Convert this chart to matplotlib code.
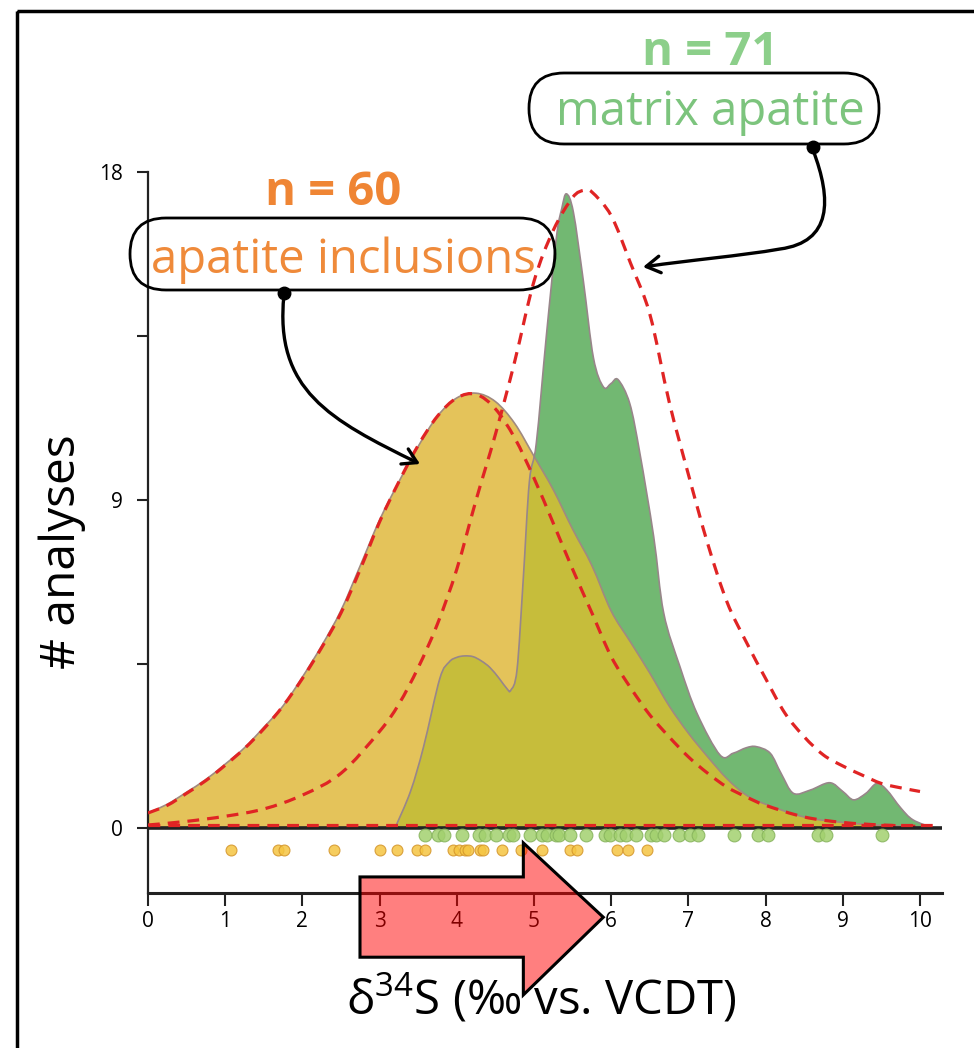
import matplotlib.pyplot as plt
import numpy as np
from matplotlib.patches import FancyBboxPatch, FancyArrowPatch, Polygon, Rectangle, PathPatch
from matplotlib.path import Path
from matplotlib.lines import Line2D
from matplotlib.transforms import Affine2D

plt.rcParams['font.family'] = ['Open Sans', 'DejaVu Sans']
plt.rcParams['mathtext.fontset'] = 'custom'
plt.rcParams['mathtext.rm'] = 'Open Sans'
plt.rcParams['mathtext.it'] = 'Open Sans'

# apatite inclusions: density curve
inc_x = [0, 0.25, 0.5, 0.75, 1.0, 1.25, 1.5, 1.75, 2.0, 2.25, 2.5, 2.75, 3.0, 3.25, 3.5, 3.75,
         4.0, 4.25, 4.5, 4.75, 5.0, 5.25, 5.5, 5.75, 6.0, 6.25, 6.5, 6.75, 7.0, 7.25, 7.5, 7.75,
         8.0, 8.5, 9.0, 9.5, 10.0]
inc_kde = [0.41, 0.65, 0.98, 1.33, 1.75, 2.2, 2.76, 3.35, 4.14, 5.0, 5.97, 7.2, 8.45, 9.5, 10.47, 11.3,
           11.8, 11.93, 11.7, 11.1, 10.2, 9.28, 8.2, 7.2, 5.95, 5.1, 4.25, 3.35, 2.6, 1.95, 1.35, 0.9,
           0.65, 0.3, 0.15, 0.07, 0.03]
inc_fit = [0.41, 0.62, 0.95, 1.3, 1.72, 2.18, 2.72, 3.35, 4.1, 4.95, 5.9, 7.1, 8.4, 9.5, 10.5, 11.3,
           11.8, 11.9, 11.5, 10.7, 9.6, 8.36, 7.1, 5.9, 4.7, 3.85, 3.1, 2.5, 1.95, 1.5, 1.12, 0.85,
           0.62, 0.3, 0.15, 0.08, 0.04]

# matrix apatite: density curve
mat_x = [3.2, 3.4, 3.57, 3.78, 3.9, 4.0, 4.1, 4.21, 4.32, 4.43, 4.55, 4.65, 4.7, 4.78, 4.86, 4.94,
         5.03, 5.16, 5.29, 5.36, 5.42, 5.51, 5.64, 5.77, 5.9, 6.0, 6.09, 6.24, 6.37, 6.55, 6.68,
         6.89, 7.11, 7.41, 7.58, 7.75, 7.88, 8.06, 8.2, 8.36, 8.58, 8.83, 9.0, 9.14, 9.3, 9.44,
         9.57, 9.75, 9.91, 10.17]
mat_kde = [0, 1.0, 2.23, 4.1, 4.55, 4.68, 4.72, 4.7, 4.58, 4.4, 4.1, 3.82, 3.78, 4.34, 6.8, 9.5,
           10.56, 13.5, 16.2, 17.0, 17.4, 16.9, 15.0, 12.9, 12.1, 12.2, 12.3, 11.65, 10.3, 8.0, 5.9,
           4.43, 3.15, 2.0, 2.05, 2.2, 2.23, 2.05, 1.5, 0.95, 1.04, 1.24, 1.0, 0.77, 0.95, 1.22,
           1.04, 0.55, 0.22, 0.0]
fit_x = [0, 0.5, 1.0, 1.5, 2.0, 2.5, 3.0, 3.25, 3.5, 3.75, 4.0, 4.25, 4.5, 4.75, 5.0, 5.25, 5.5,
         5.65, 5.75, 6.0, 6.25, 6.5, 6.75, 7.0, 7.25, 7.5, 7.75, 8.0, 8.25, 8.5, 8.75, 9.0, 9.25,
         9.5, 9.75, 10.0]
mat_fit = [0.08, 0.18, 0.32, 0.52, 0.9, 1.5, 2.65, 3.4, 4.4, 5.6, 7.1, 9.0, 10.8, 12.8, 15.0, 16.4,
           17.3, 17.5, 17.45, 16.8, 15.5, 14.1, 11.7, 9.7, 7.8, 6.2, 5.1, 4.1, 3.15, 2.5, 2.0, 1.7,
           1.45, 1.22, 1.1, 1.0]

# individual analyses (rug)
mat_dots = [3.59, 3.76, 3.83, 4.07, 4.29, 4.36, 4.51, 4.68, 4.73, 4.95, 5.10, 5.17, 5.29, 5.32,
            5.47, 5.68, 5.92, 5.99, 6.12, 6.19, 6.32, 6.51, 6.58, 6.68, 6.88, 7.02, 7.12, 7.59,
            7.90, 8.03, 8.68, 8.78, 9.51]
inc_dots = [1.08, 1.69, 1.76, 2.41, 3.00, 3.22, 3.48, 3.59, 3.95, 4.03, 4.10, 4.15, 4.30, 4.34,
            4.58, 4.83, 5.10, 5.46, 5.56, 6.07, 6.22, 6.46]

x_ticks = [0, 1, 2, 3, 4, 5, 6, 7, 8, 9, 10]
y_ticks = [0, 4.5, 9, 13.5, 18]
y_ticklabels = ['0', '', '9', '', '18']

# big shift arrow outline (data units)
arrow_x = [2.746, 4.862, 4.862, 5.898, 4.862, 4.862, 2.746]
arrow_y = [-1.345, -1.345, -0.412, -2.451, -4.583, -3.548, -3.548]

ORANGE = '#e4c35a'
GREEN = '#72b872'
OLIVE = '#c6bd3b'
RED = '#e02424'


def smooth_path(xs, ys, closed=False):
    # Catmull-Rom through the read points, as cubic Bezier segments
    pts = np.column_stack([xs, ys]).astype(float)
    n = len(pts)
    verts, codes = [], []
    if closed:
        verts += [(pts[0, 0], 0.0), tuple(pts[0])]
        codes += [Path.MOVETO, Path.LINETO]
    else:
        verts.append(tuple(pts[0]))
        codes.append(Path.MOVETO)
    for i in range(n - 1):
        p0 = pts[max(i - 1, 0)]
        p1 = pts[i]
        p2 = pts[i + 1]
        p3 = pts[min(i + 2, n - 1)]
        c1 = p1 + (p2 - p0) / 6.0
        c2 = p2 - (p3 - p1) / 6.0
        verts += [tuple(c1), tuple(c2), tuple(p2)]
        codes += [Path.CURVE4] * 3
    if closed:
        verts += [(pts[-1, 0], 0.0), (pts[0, 0], 0.0)]
        codes += [Path.LINETO, Path.CLOSEPOLY]
    return Path(verts, codes)


W, H = 974, 1048
fig = plt.figure(figsize=(W / 100, H / 100), dpi=100)
px = Affine2D().scale(1 / 100, -1 / 100).translate(0, H / 100) + fig.dpi_scale_trans

ax = fig.add_axes([148 / W, 155 / H, 794 / W, 721 / H])
ax.set_xlim(0, 10.285)
ax.set_ylim(-1.786, 18)

inc_patch = PathPatch(smooth_path(inc_x, inc_kde, True), fc=ORANGE, lw=0, zorder=2)
ax.add_patch(inc_patch)
ax.add_patch(PathPatch(smooth_path(mat_x, mat_kde, True), fc=GREEN, lw=0, zorder=2.1))
olive = PathPatch(smooth_path(mat_x, mat_kde, True), fc=OLIVE, lw=0, zorder=2.2)
ax.add_patch(olive)
olive.set_clip_path(inc_patch)
ax.add_patch(PathPatch(smooth_path(inc_x, inc_kde), fill=False, ec='#a08a80', lw=1.2, zorder=2.3))
ax.add_patch(PathPatch(smooth_path(mat_x, mat_kde), fill=False, ec='#98868a', lw=1.2, zorder=2.3))

dash = (0, (3.7, 2.5))
ax.add_patch(PathPatch(smooth_path(inc_x, inc_fit), fill=False, ec=RED, lw=2.3, ls=dash, zorder=3))
ax.add_patch(PathPatch(smooth_path(fit_x, mat_fit), fill=False, ec=RED, lw=2.3, ls=dash, zorder=3))
ax.axhline(0, color='#222222', lw=2.6, zorder=3.5)
ax.plot([0, 10.2], [0.08, 0.08], color=RED, lw=2.3, dashes=(3.7, 2.5), zorder=3.6)

ax.scatter(mat_dots, [-0.19] * len(mat_dots), s=85, fc='#a2d06e', ec='#86b35c', lw=0.8,
           alpha=0.85, zorder=5, clip_on=False)
ax.scatter(inc_dots, [-0.6] * len(inc_dots), s=62, fc='#f5c542', ec='#d4952a', lw=0.8,
           alpha=0.85, zorder=5, clip_on=False)

ax.add_patch(Polygon(list(zip(arrow_x, arrow_y)), closed=True, fc=(1, 0, 0, 0.5), ec='black',
                     lw=2.2, zorder=6, clip_on=False))

for s in ['top', 'right']:
    ax.spines[s].set_visible(False)
ax.spines['left'].set_linewidth(1.6)
ax.spines['bottom'].set_linewidth(2.2)
ax.spines['left'].set_color('#222222')
ax.spines['bottom'].set_color('#222222')
ax.set_xticks(x_ticks)
ax.set_yticks(y_ticks)
ax.set_yticklabels(y_ticklabels)
ax.tick_params(axis='x', length=9, width=1.5, pad=4, labelsize=15, color='#222222')
ax.tick_params(axis='y', length=8, width=1.5, pad=10, labelsize=15, color='#222222')

fig.text(62, 552, '# analyses', transform=px, rotation=90, ha='center', va='center', fontsize=34.5)
fig.text(541, 1015, r'δ$^{34}$S (‰ vs. VCDT)', transform=px, ha='center', va='baseline',
         fontsize=34)

# callouts
fig.text(333, 205, 'n = 60', transform=px, ha='center', va='baseline', fontsize=34,
         fontweight='bold', color='#ef8534')
fig.text(343, 273, 'apatite inclusions', transform=px, ha='center', va='baseline', fontsize=34,
         color='#ef8a3a')
fig.add_artist(FancyBboxPatch((130, 218), 425, 72, boxstyle='round,pad=0,rounding_size=36',
                              transform=px, fc='none', ec='black', lw=2))

fig.text(710, 65, 'n = 71', transform=px, ha='center', va='baseline', fontsize=34,
         fontweight='bold', color='#8ccf8a')
fig.text(710, 125, 'matrix apatite', transform=px, ha='center', va='baseline', fontsize=34,
         color='#7cc47d')
fig.add_artist(FancyBboxPatch((529, 73), 350, 71, boxstyle='round,pad=0,rounding_size=35',
                              transform=px, fc='none', ec='black', lw=2))

p1 = Path([(284, 295), (274, 390), (330, 420), (420, 464)],
          [Path.MOVETO, Path.CURVE4, Path.CURVE4, Path.CURVE4])
fig.add_artist(FancyArrowPatch(path=p1, arrowstyle='->,head_length=10,head_width=6',
                               transform=px, lw=2.4, color='black'))
p2 = Path([(813, 150), (832, 200), (832, 242), (780, 249), (740, 256), (690, 260), (643, 267)],
          [Path.MOVETO, Path.CURVE4, Path.CURVE4, Path.CURVE4, Path.CURVE4, Path.CURVE4,
           Path.CURVE4])
fig.add_artist(FancyArrowPatch(path=p2, arrowstyle='->,head_length=10,head_width=6',
                               transform=px, lw=2.4, color='black'))
fig.add_artist(Line2D([284, 813], [293, 147], ls='none', marker='o', ms=9, color='black',
                      transform=px))

fig.add_artist(Rectangle((17, 11), 1000, 1100, transform=px, fill=False, ec='black', lw=2.5))

fig.savefig('out.png', dpi=100)
